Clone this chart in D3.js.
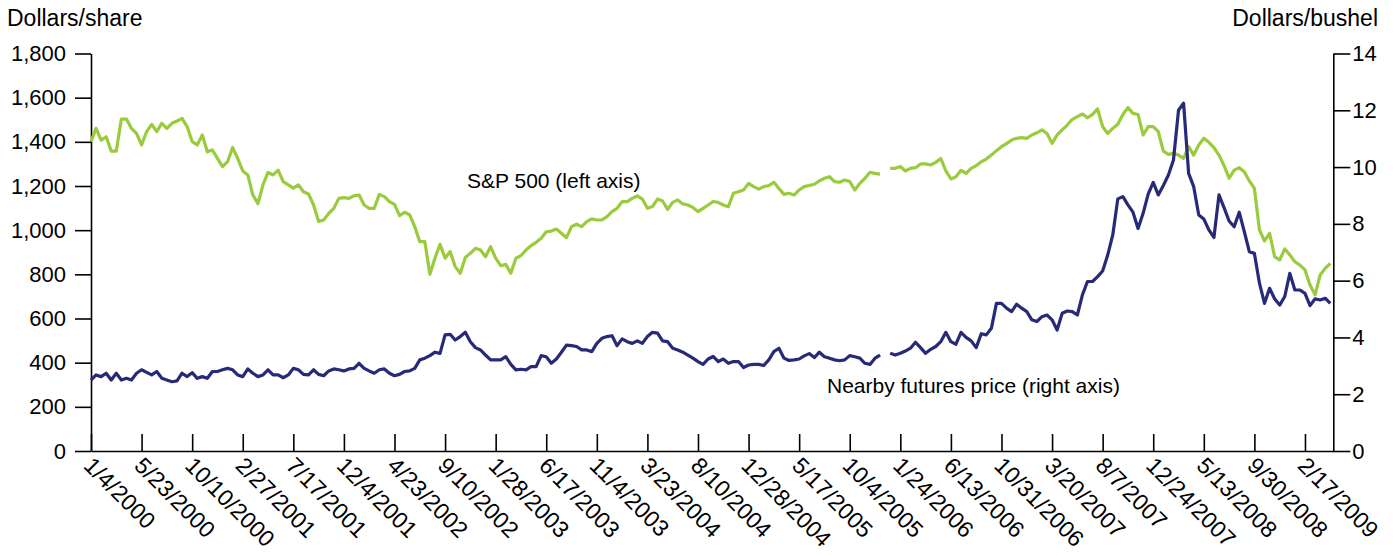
<!DOCTYPE html>
<html>
<head>
  <title>S&amp;P 500 and nearby futures price</title>
  <style>
    body { margin: 0; background: #fff; }
    svg { display: block; }
    text { font-family: "Liberation Sans", Arial, sans-serif; fill: #000; }
    .axis path, .axis line { stroke: #000; stroke-width: 1.6; }
  </style>
  <script src="https://d3js.org/d3.v7.min.js"></script>
</head>
<body>
  <div id="chart"></div>

  <script>
    // Values are read every 2 weeks; null marks the gap in the source series
    var step = 2;

    var tickLabels = ["1/4/2000", "5/23/2000", "10/10/2000", "2/27/2001", "7/17/2001",
      "12/4/2001", "4/23/2002", "9/10/2002", "1/28/2003", "6/17/2003", "11/4/2003",
      "3/23/2004", "8/10/2004", "12/28/2004", "5/17/2005", "10/4/2005", "1/24/2006",
      "6/13/2006", "10/31/2006", "3/20/2007", "8/7/2007", "12/24/2007", "5/13/2008",
      "9/30/2008", "2/17/2009"];

    // S&P 500, dollars/share (left axis)
    var sp500 = [
      1401, 1461, 1408, 1423, 1358, 1358, 1503, 1503, 1461, 1438,
      1386, 1446, 1479, 1446, 1484, 1461, 1484, 1494, 1506, 1469,
      1401, 1386, 1431, 1355, 1363, 1325, 1288, 1310, 1374, 1325,
      1268, 1250, 1159, 1120, 1205, 1262, 1250, 1272, 1220, 1205,
      1190, 1205, 1174, 1164, 1114, 1039, 1046, 1076, 1099, 1144,
      1147, 1144, 1156, 1159, 1114, 1099, 1099, 1162, 1152, 1129,
      1117, 1066, 1081, 1069, 1016, 948, 948, 800, 873, 936,
      873, 903, 835, 805, 876, 895, 918, 910, 880, 925,
      873, 839, 845, 805, 873, 885, 910, 930, 945, 963,
      993, 996, 1005, 986, 966, 1016, 1027, 1016, 1039, 1051,
      1046, 1046, 1061, 1084, 1099, 1129, 1129, 1144, 1155, 1141,
      1099, 1107, 1141, 1132, 1094, 1126, 1137, 1119, 1114, 1103,
      1084, 1099, 1114, 1130, 1126, 1114, 1106, 1167, 1174, 1182,
      1212, 1197, 1186, 1197, 1202, 1217, 1189, 1162, 1167, 1159,
      1182, 1197, 1202, 1208, 1223, 1235, 1242, 1220, 1217, 1227,
      1220, 1182, 1212, 1235, 1262, 1257, 1254, null, 1280, 1280,
      1288, 1268, 1280, 1283, 1300, 1300, 1295, 1307, 1325, 1268,
      1232, 1242, 1271, 1257, 1280, 1292, 1310, 1322, 1340, 1360,
      1378, 1392, 1408, 1416, 1419, 1416, 1431, 1441, 1454, 1438,
      1393, 1431, 1454, 1476, 1502, 1514, 1526, 1509, 1524, 1549,
      1469, 1438, 1461, 1480, 1524, 1555, 1529, 1524, 1431, 1469,
      1469, 1446, 1358, 1343, 1348, 1340, 1325, 1378, 1340, 1386,
      1416, 1398, 1374, 1340, 1292, 1235, 1272, 1283, 1265, 1223,
      1189, 1001, 951, 986, 880, 865, 915, 888, 857, 842,
      820, 752, 707, 797, 827, 850
    ];

    // Nearby futures price, dollars/bushel (right axis)
    var futures = [
      2.50, 2.68, 2.62, 2.74, 2.50, 2.74, 2.50, 2.56, 2.50, 2.74,
      2.86, 2.77, 2.68, 2.80, 2.56, 2.50, 2.44, 2.47, 2.74, 2.62,
      2.76, 2.56, 2.62, 2.56, 2.80, 2.80, 2.86, 2.91, 2.86, 2.68,
      2.62, 2.89, 2.74, 2.62, 2.68, 2.86, 2.68, 2.68, 2.58, 2.68,
      2.91, 2.86, 2.70, 2.68, 2.86, 2.70, 2.65, 2.82, 2.89, 2.86,
      2.82, 2.89, 2.91, 3.09, 2.91, 2.82, 2.74, 2.86, 2.89, 2.74,
      2.65, 2.70, 2.80, 2.82, 2.91, 3.21, 3.27, 3.36, 3.48, 3.44,
      4.09, 4.11, 3.91, 4.03, 4.18, 3.85, 3.64, 3.56, 3.38, 3.21,
      3.21, 3.21, 3.32, 3.05, 2.86, 2.88, 2.86, 2.97, 2.97, 3.36,
      3.32, 3.09, 3.24, 3.48, 3.73, 3.71, 3.68, 3.56, 3.56, 3.50,
      3.79, 3.97, 4.03, 4.06, 3.71, 3.95, 3.85, 3.79, 3.88, 3.79,
      4.03, 4.18, 4.15, 3.88, 3.85, 3.62, 3.56, 3.48, 3.38, 3.27,
      3.15, 3.05, 3.24, 3.33, 3.15, 3.24, 3.09, 3.15, 3.15, 2.94,
      3.03, 3.05, 3.05, 3.01, 3.21, 3.50, 3.62, 3.27, 3.19, 3.21,
      3.24, 3.35, 3.43, 3.29, 3.48, 3.32, 3.27, 3.21, 3.18, 3.21,
      3.36, 3.32, 3.27, 3.09, 3.05, 3.27, 3.38, null, 3.44, 3.38,
      3.44, 3.52, 3.62, 3.83, 3.64, 3.44, 3.58, 3.68, 3.85, 4.18,
      3.85, 3.76, 4.18, 4.00, 3.88, 3.64, 4.13, 4.09, 4.32, 5.20,
      5.20, 5.03, 4.91, 5.17, 5.03, 4.91, 4.62, 4.56, 4.73, 4.79,
      4.62, 4.26, 4.85, 4.93, 4.91, 4.79, 5.50, 5.97, 5.97, 6.14,
      6.34, 6.90, 7.61, 8.88, 8.96, 8.67, 8.41, 7.84, 8.37, 9.05,
      9.46, 9.02, 9.35, 9.72, 10.25, 12.00, 12.25, 9.78, 9.31, 8.31,
      8.17, 7.79, 7.52, 9.02, 8.57, 8.10, 7.90, 8.41, 7.73, 7.02,
      6.96, 5.91, 5.20, 5.73, 5.36, 5.14, 5.44, 6.26, 5.67, 5.67,
      5.55, 5.12, 5.36, 5.32, 5.38, 5.20
    ];

    var leftTicks = d3.range(0, 1801, 200);
    var rightTicks = d3.range(0, 15, 2);

    var width = 1397, height = 555;

    var svg = d3.select("#chart").append("svg")
      .attr("width", width)
      .attr("height", height);

    var x = d3.scaleLinear().domain([0, 491.2]).range([91, 1333.3]);
    var yLeft = d3.scaleLinear().domain([0, 1800]).range([451, 53.5]);
    var yRight = d3.scaleLinear().domain([0, 14]).range([451, 53.5]);

    // left axis
    svg.append("g")
      .attr("class", "axis")
      .attr("transform", "translate(" + x(0) + ",0)")
      .call(d3.axisLeft(yLeft).tickValues(leftTicks).tickFormat(d3.format(","))
        .tickSize(16).tickSizeOuter(0).tickPadding(9))
      .selectAll("text").style("font-size", "22px");

    // right axis
    svg.append("g")
      .attr("class", "axis")
      .attr("transform", "translate(" + x.range()[1] + ",0)")
      .call(d3.axisRight(yRight).tickValues(rightTicks)
        .tickSize(17).tickSizeOuter(0).tickPadding(2))
      .selectAll("text").style("font-size", "22px");

    // bottom axis, ticks pointing up into the plot
    var xAxis = svg.append("g")
      .attr("class", "axis")
      .attr("transform", "translate(0," + yLeft(0) + ")")
      .call(d3.axisBottom(x)
        .tickValues(tickLabels.map(function(d, i) { return i * 20; }))
        .tickFormat(function(d) { return tickLabels[d / 20]; })
        .tickSize(-17).tickSizeOuter(0));

    xAxis.selectAll("text")
      .attr("x", 0).attr("y", 0).attr("dy", 0)
      .attr("text-anchor", "start")
      .attr("transform", "translate(-9,16) rotate(45)")
      .style("font-size", "23px");

    // lines
    function lineFor(scale) {
      return d3.line()
        .defined(function(d) { return d != null; })
        .x(function(d, i) { return x(i * step); })
        .y(function(d) { return scale(d); });
    }

    svg.append("path")
      .datum(sp500)
      .attr("fill", "none")
      .attr("stroke", "#9acb3c")
      .attr("stroke-width", 3.2)
      .attr("stroke-linejoin", "round")
      .attr("d", lineFor(yLeft));

    svg.append("path")
      .datum(futures)
      .attr("fill", "none")
      .attr("stroke", "#272a78")
      .attr("stroke-width", 3.2)
      .attr("stroke-linejoin", "round")
      .attr("d", lineFor(yRight));

    // titles and labels
    svg.append("text").attr("x", 7).attr("y", 26)
      .style("font-size", "23px").text("Dollars/share");
    svg.append("text").attr("x", 1378).attr("y", 26)
      .attr("text-anchor", "end")
      .style("font-size", "23px").text("Dollars/bushel");

    svg.append("text").attr("x", 467).attr("y", 188)
      .style("font-size", "21px").text("S&P 500 (left axis)");
    svg.append("text").attr("x", 827).attr("y", 393)
      .style("font-size", "21px").text("Nearby futures price (right axis)");
  </script>
</body>
</html>
